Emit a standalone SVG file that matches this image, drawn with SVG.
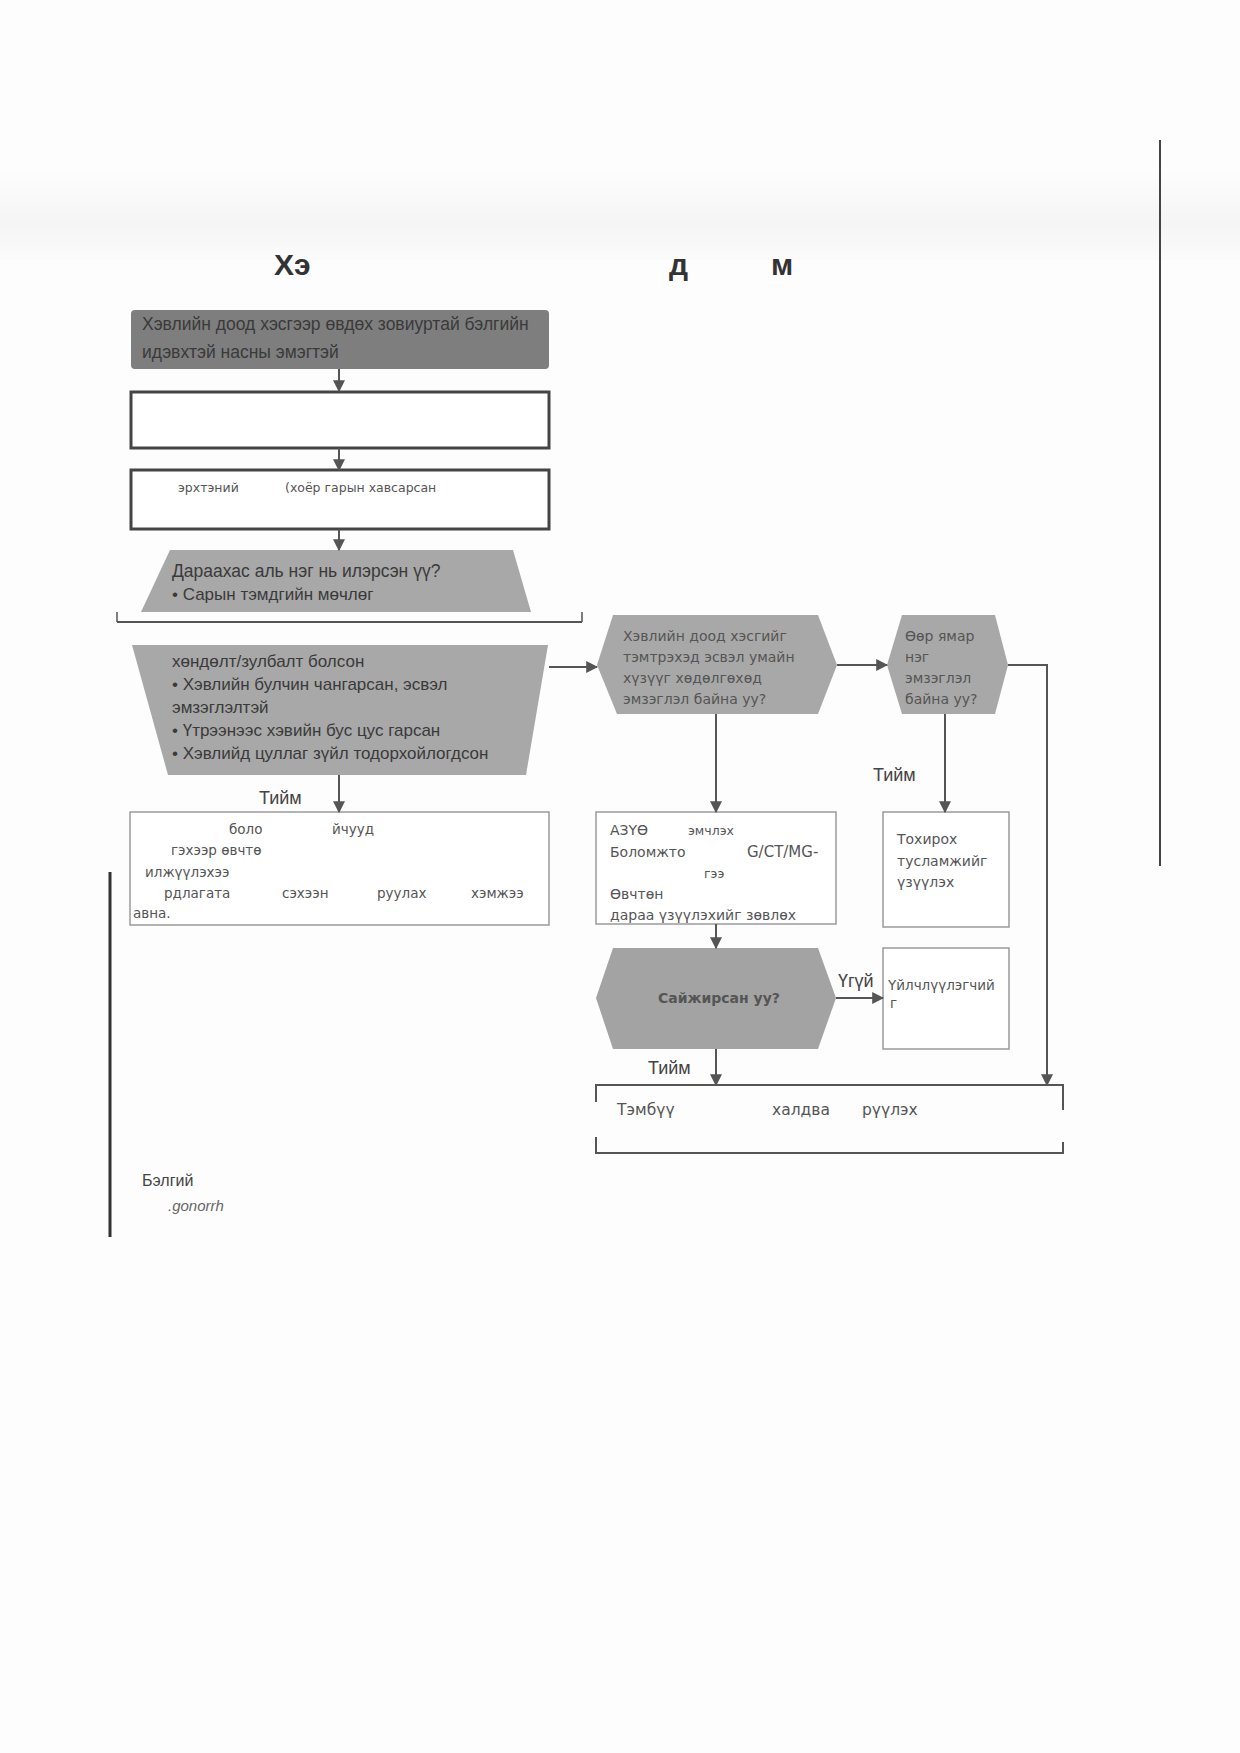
<svg xmlns="http://www.w3.org/2000/svg" width="1240" height="1753" viewBox="0 0 1240 1753">
<defs>
<marker id="ah" viewBox="0 0 10 10" refX="9" refY="5" markerWidth="12" markerHeight="12" markerUnits="userSpaceOnUse" orient="auto">
<path d="M0,0 L10,5 L0,10 Z" fill="#555"/>
</marker>
<linearGradient id="band" x1="0" y1="0" x2="0" y2="1">
<stop offset="0" stop-color="#fdfdfd"/>
<stop offset="0.6" stop-color="#f5f5f5"/>
<stop offset="1" stop-color="#fbfbfb"/>
</linearGradient>
</defs>
<style>
.ar{font-family:"Liberation Sans",Arial,sans-serif;fill:#3a3a3a}
.dv{font-family:"DejaVu Sans",Verdana,sans-serif;fill:#555}
.lbl{font-family:"Liberation Sans",Arial,sans-serif;font-size:18px;fill:#444}
.conn{stroke:#555;stroke-width:2;fill:none}
.dark{fill:#7e7e7e}
.gray{fill:#a8a8a8}
.wbox{fill:#fff;stroke:#444;stroke-width:3}
.tbox{fill:#fff;stroke:#9a9a9a;stroke-width:1.5}
</style>
<rect x="0" y="0" width="1240" height="1753" fill="#fdfdfd"/>
<rect x="0" y="170" width="1240" height="90" fill="url(#band)"/>
<line x1="1160" y1="140" x2="1160" y2="866" stroke="#444" stroke-width="2"/>
<line x1="110" y1="872" x2="110" y2="1237" stroke="#333" stroke-width="3"/>
<line x1="117" y1="622" x2="582" y2="622" stroke="#555" stroke-width="2"/>
<line x1="117" y1="612" x2="117" y2="622" stroke="#555" stroke-width="1.5"/>
<line x1="582" y1="612" x2="582" y2="622" stroke="#555" stroke-width="1.5"/>

<g id="title">
<text x="274" y="275" font-family="Liberation Sans,Arial,sans-serif" font-weight="bold" font-size="30" fill="#333">Хэ</text>
<text x="669" y="275" font-family="Liberation Sans,Arial,sans-serif" font-weight="bold" font-size="30" fill="#333">д</text>
<text x="771" y="275" font-family="Liberation Sans,Arial,sans-serif" font-weight="bold" font-size="30" fill="#333">м</text>
</g>

<g id="n1">
<rect x="131" y="310" width="418" height="59" rx="4" class="dark"/>
<text class="ar" x="142" y="330" font-size="17.5">Хэвлийн доод хэсгээр өвдөх зовиуртай бэлгийн</text>
<text class="ar" x="142" y="358" font-size="17.5">идэвхтэй насны эмэгтэй</text>
</g>

<g id="n2">
<rect x="131" y="392" width="418" height="56" class="wbox"/>
</g>

<g id="n3">
<rect x="131" y="470" width="418" height="59" class="wbox"/>
<text class="dv" x="178" y="492" font-size="12.5">эрхтэний</text>
<text class="dv" x="285" y="492" font-size="12.5">(хоёр гарын хавсарсан</text>
</g>

<g id="n4">
<polygon points="170,550 513,550 531,612 141,612" class="gray"/>
<polygon points="132,645 548,645 526,775 168,775" class="gray"/>
<text class="ar" x="172" y="577" font-size="17.5">Дараахас аль нэг нь илэрсэн үү?</text>
<text class="ar" x="172" y="600" font-size="17">• Сарын тэмдгийн мөчлөг</text>
<text class="ar" x="172" y="667" font-size="17">хөндөлт/зулбалт болсон</text>
<text class="ar" x="172" y="690" font-size="17">• Хэвлийн булчин чангарсан, эсвэл</text>
<text class="ar" x="172" y="713" font-size="17">эмзэглэлтэй</text>
<text class="ar" x="172" y="736" font-size="17">• Үтрээнээс хэвийн бус цус гарсан</text>
<text class="ar" x="172" y="759" font-size="17">• Хэвлийд цуллаг зүйл тодорхойлогдсон</text>
</g>

<g id="n5">
<rect x="130" y="812" width="419" height="113" class="tbox"/>
<text class="dv" x="229" y="834" font-size="13.5">боло</text>
<text class="dv" x="332" y="834" font-size="13.5">йчууд</text>
<text class="dv" x="171" y="855" font-size="13.5">гэхээр өвчтө</text>
<text class="dv" x="145" y="877" font-size="13.5">илжүүлэхээ</text>
<text class="dv" x="164" y="898" font-size="13.5">рдлагата</text>
<text class="dv" x="282" y="898" font-size="13.5">сэхээн</text>
<text class="dv" x="377" y="898" font-size="13.5">руулах</text>
<text class="dv" x="471" y="898" font-size="13.5">хэмжээ</text>
<text class="dv" x="133" y="918" font-size="13.5">авна.</text>
</g>

<g id="n6">
<polygon points="613,615 818,615 837,665 818,714 617,714 597,665" class="gray"/>
<text class="dv" x="623" y="641" font-size="14" fill="#3e3e3e">Хэвлийн доод хэсгийг</text>
<text class="dv" x="623" y="662" font-size="14" fill="#3e3e3e">тэмтрэхэд эсвэл умайн</text>
<text class="dv" x="623" y="683" font-size="14" fill="#3e3e3e">хүзүүг хөдөлгөхөд</text>
<text class="dv" x="623" y="704" font-size="14" fill="#3e3e3e">эмзэглэл байна уу?</text>
</g>

<g id="n7">
<polygon points="902,615 995,615 1008,665 995,714 902,714 887,665" class="gray"/>
<text class="dv" x="905" y="641" font-size="14" fill="#3e3e3e">Өөр ямар</text>
<text class="dv" x="905" y="662" font-size="14" fill="#3e3e3e">нэг</text>
<text class="dv" x="905" y="683" font-size="14" fill="#3e3e3e">эмзэглэл</text>
<text class="dv" x="905" y="704" font-size="14" fill="#3e3e3e">байна уу?</text>
</g>

<g id="n8">
<rect x="596" y="812" width="240" height="112" class="tbox"/>
<text class="dv" x="610" y="835" font-size="14">АЗҮӨ</text>
<text class="dv" x="688" y="835" font-size="12.5">эмчлэх</text>
<text class="dv" x="610" y="857" font-size="14">Боломжто</text>
<text class="dv" x="747" y="857" font-size="15">G/CT/MG-</text>
<text class="dv" x="704" y="878" font-size="12.5">гээ</text>
<text class="dv" x="610" y="899" font-size="14">Өвчтөн</text>
<text class="dv" x="610" y="920" font-size="14">дараа үзүүлэхийг зөвлөх</text>
</g>

<g id="n9">
<rect x="883" y="812" width="126" height="115" class="tbox"/>
<text class="dv" x="897" y="844" font-size="14">Тохирох</text>
<text class="dv" x="897" y="866" font-size="14">тусламжийг</text>
<text class="dv" x="897" y="887" font-size="14">үзүүлэх</text>
</g>

<g id="n10">
<polygon points="613,948 818,948 836,998 818,1049 613,1049 596,998" fill="#a3a3a3"/>
<text class="dv" x="719" y="1003" font-size="14" font-weight="bold" text-anchor="middle" fill="#555">Сайжирсан уу?</text>
</g>

<g id="n11">
<rect x="883" y="948" width="126" height="101" class="tbox"/>
<text class="dv" x="888" y="990" font-size="13.5">Үйлчлүүлэгчий</text>
<text class="dv" x="890" y="1008" font-size="13.5">г</text>
</g>

<g id="n12">
<path d="M596,1102 L596,1085 L1063,1085 L1063,1110" stroke="#555" stroke-width="2" fill="none"/>
<path d="M596,1137 L596,1153 L1063,1153 L1063,1142" stroke="#555" stroke-width="2" fill="none"/>
<text class="dv" x="617" y="1115" font-size="15.5">Тэмбүү</text>
<text class="dv" x="772" y="1115" font-size="15.5">халдва</text>
<text class="dv" x="862" y="1115" font-size="15.5">рүүлэх</text>
</g>

<g id="note">
<text x="142" y="1186" font-family="Liberation Sans,Arial,sans-serif" font-size="16" fill="#444">Бэлгий</text>
<text x="168" y="1211" font-family="Liberation Sans,Arial,sans-serif" font-size="15" font-style="italic" fill="#666">.gonorrh</text>
</g>

<g id="connectors">
<line x1="339" y1="369" x2="339" y2="391" class="conn" marker-end="url(#ah)"/>
<line x1="339" y1="448" x2="339" y2="470" class="conn" marker-end="url(#ah)"/>
<line x1="339" y1="529" x2="339" y2="550" class="conn" marker-end="url(#ah)"/>
<line x1="339" y1="775" x2="339" y2="812" class="conn" marker-end="url(#ah)"/>
<line x1="549" y1="667" x2="597" y2="667" class="conn" marker-end="url(#ah)"/>
<line x1="837" y1="665" x2="887" y2="665" class="conn" marker-end="url(#ah)"/>
<polyline points="1008,665 1047,665 1047,1085" class="conn" marker-end="url(#ah)"/>
<line x1="716" y1="714" x2="716" y2="812" class="conn" marker-end="url(#ah)"/>
<line x1="945" y1="714" x2="945" y2="812" class="conn" marker-end="url(#ah)"/>
<line x1="716" y1="924" x2="716" y2="948" class="conn" marker-end="url(#ah)"/>
<line x1="836" y1="998" x2="883" y2="998" class="conn" marker-end="url(#ah)"/>
<line x1="716" y1="1049" x2="716" y2="1085" class="conn" marker-end="url(#ah)"/>
<text class="lbl" x="259" y="804">Тийм</text>
<text class="lbl" x="873" y="781">Тийм</text>
<text class="lbl" x="838" y="987">Үгүй</text>
<text class="lbl" x="648" y="1074">Тийм</text>
</g>
</svg>
